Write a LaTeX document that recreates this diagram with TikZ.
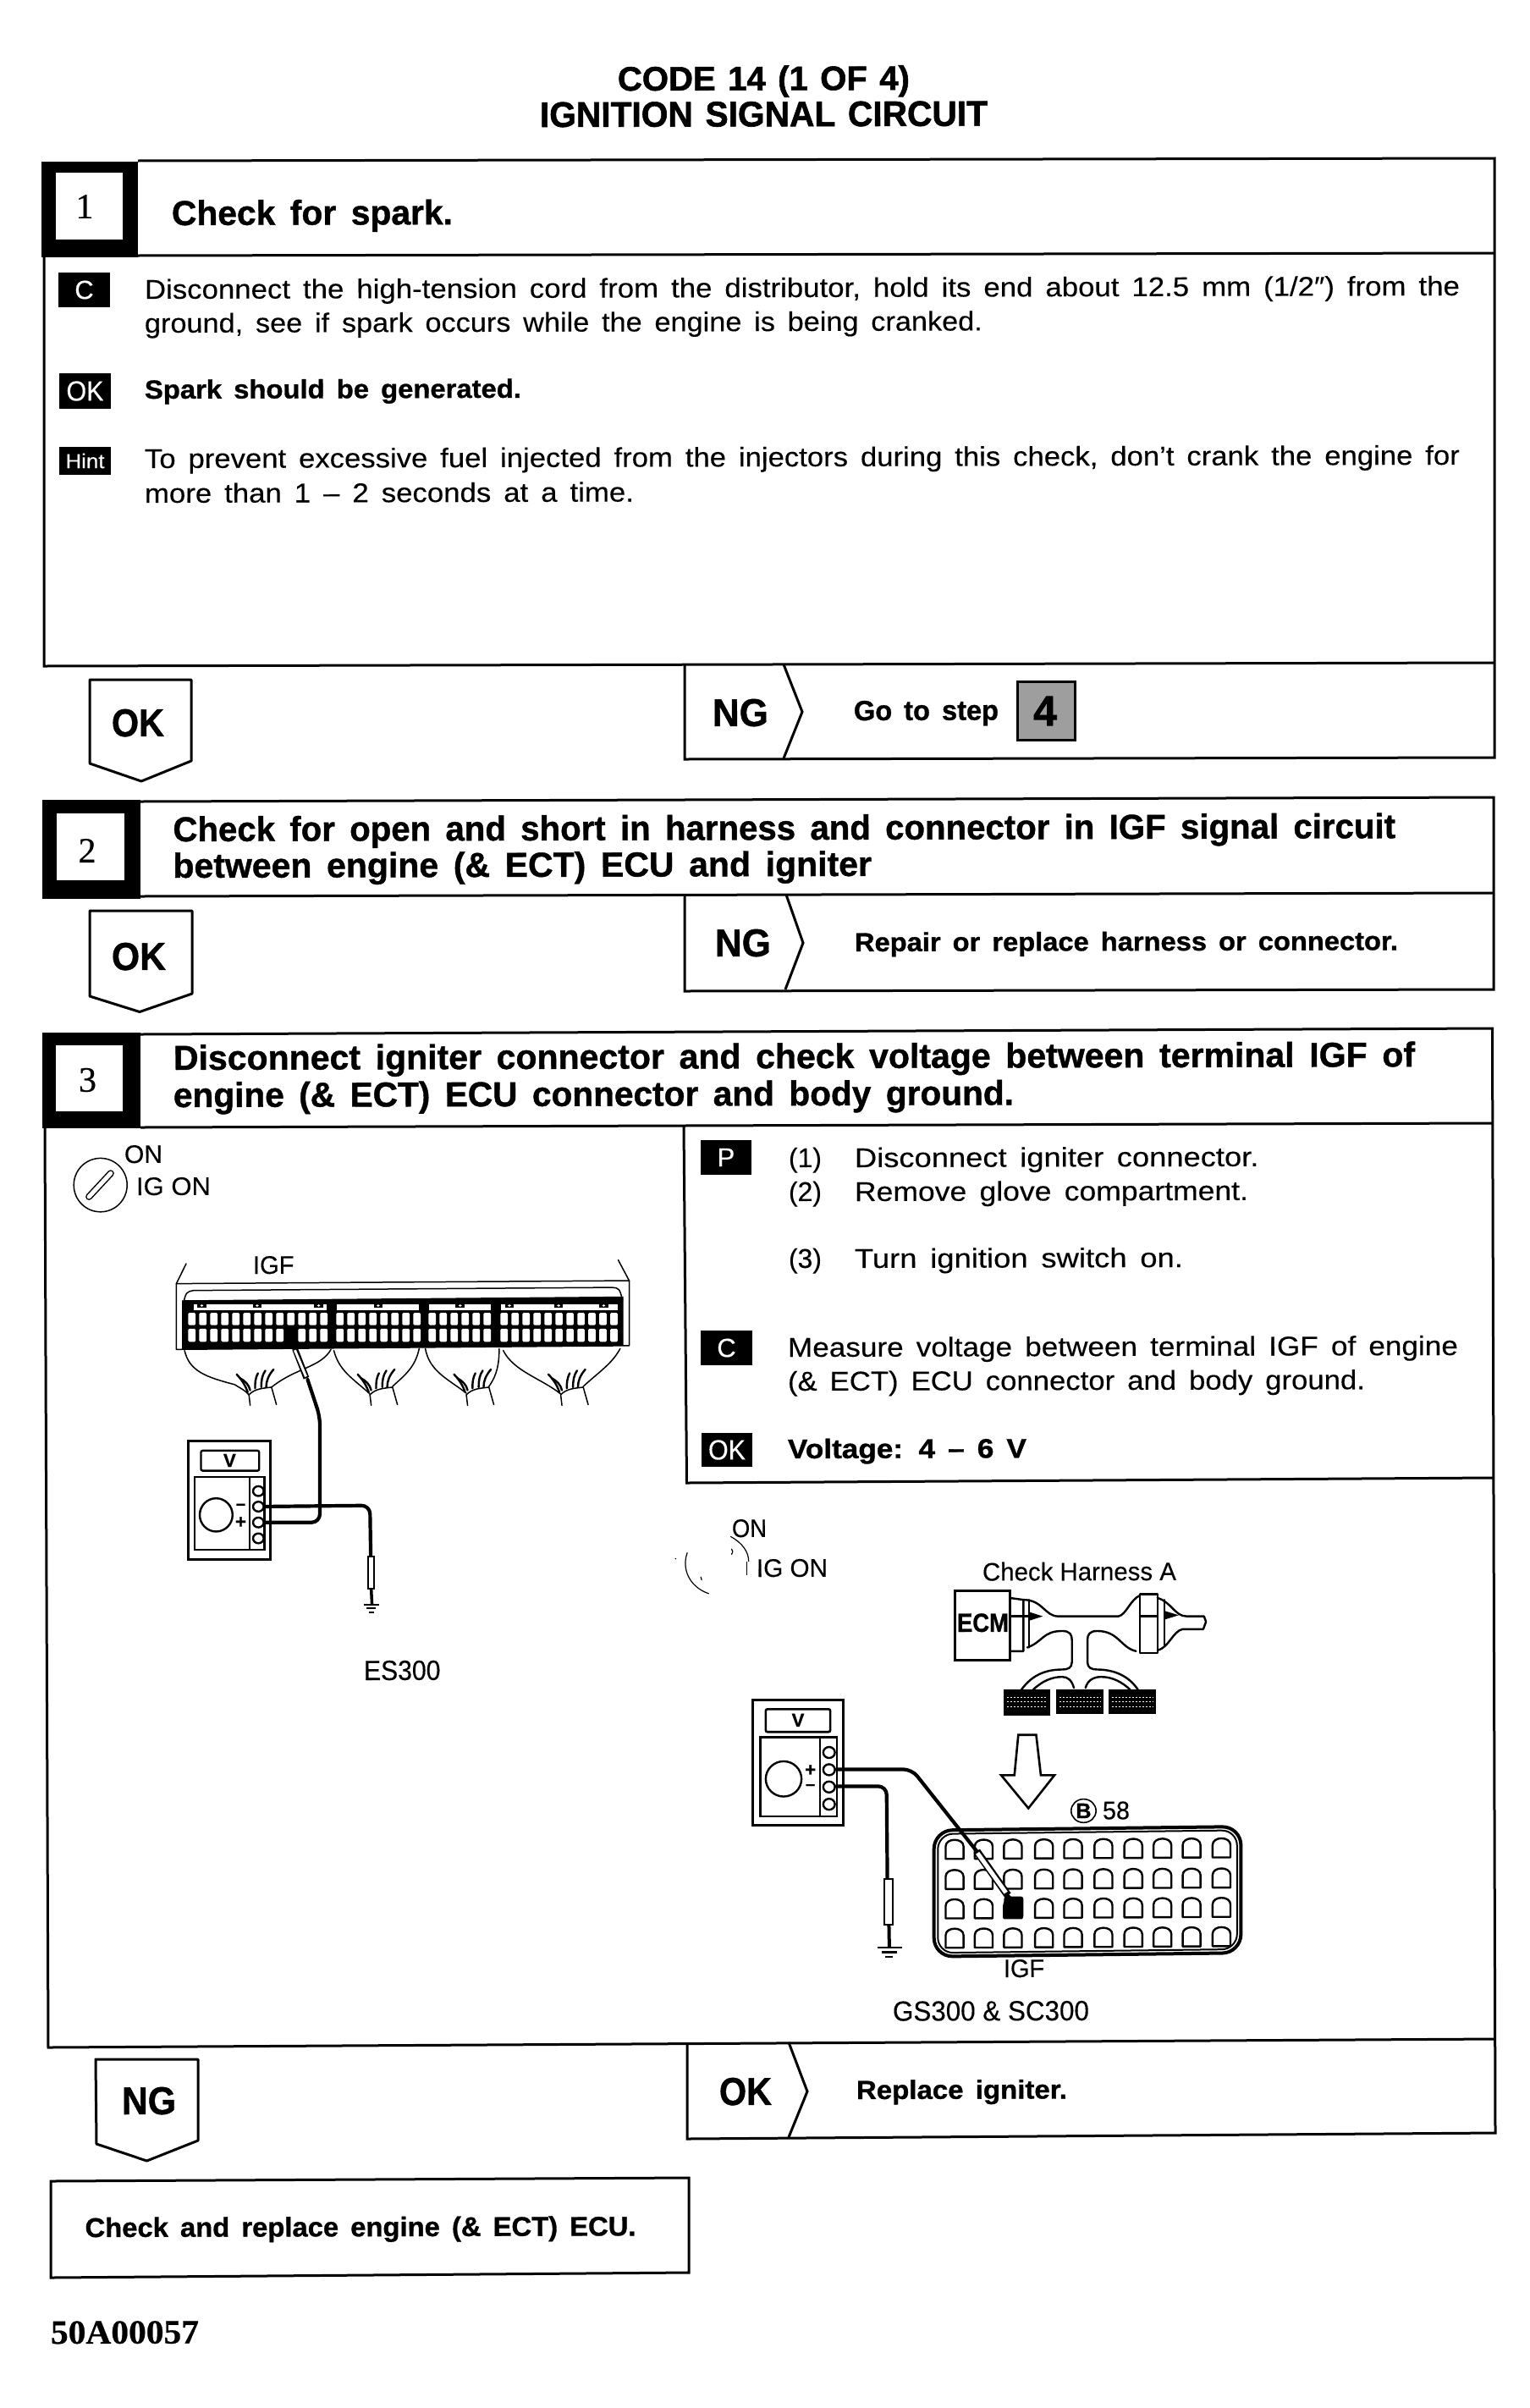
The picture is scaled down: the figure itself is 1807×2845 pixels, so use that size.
\documentclass[tikz,border=0pt]{standalone}
\usepackage{graphicx}
\usepackage{fontspec}
\setmainfont{Liberation Sans}[WordSpace=1.55,FakeBold=0.25,BoldFeatures={FakeBold=1.0}]
\newfontfamily\titlef{Liberation Sans Bold}[FakeBold=1.4,WordSpace=1.3]
\newfontfamily\labelf{Liberation Sans}[FakeBold=0.2]
\newfontfamily\serifnum{Liberation Serif}[FakeBold=0.6]
\newfontfamily\serifbold{Liberation Serif Bold}[FakeBold=0.6]
\newcommand{\txtn}[7]{\node[anchor=base west,inner sep=0pt,outer sep=0pt,rotate=0.15] (#1) at (#2,#3) {\fontsize{#5}{#5}\selectfont #6\resizebox{#4pt}{\height}{#7}};}
\newcommand{\tagn}[7]{\fill[black] (#2,#3) rectangle (#4,#5); \node[inner sep=0pt,text=white] (#1) at ({(#2+#4)/2},{(#3+#5)/2}) {\fontsize{#6}{#6}\selectfont #7};}
\tikzset{
  frame/.style={draw=black,line width=3pt,line join=miter},
  thin wire/.style={draw=black,line width=1.5pt,line join=round,line cap=round},
  med wire/.style={draw=black,line width=2.4pt,line join=round,line cap=round},
  lead/.style={draw=black,line width=4.2pt,line join=round,line cap=round,rounded corners=10pt},
  zA/.style={shift={(30,1330)},x=0.48473pt,y=-0.44643pt},
  zB/.style={shift={(780,1760)},x=0.45914pt,y=-0.43365pt}
}
\begin{document}
\begin{tikzpicture}[x=1pt,y=-1pt]
\useasboundingbox (0,0) rectangle (1807,2845);
\fill[white] (0,0) rectangle (1807,2845);
% title
\txtn{t1}{730}{107}{345}{40}{\titlef}{CODE 14 (1 OF 4)}
\txtn{t2}{638}{150}{529}{42}{\titlef}{IGNITION SIGNAL CIRCUIT}
% ---------- box 1
\fill[black] (49,191) rectangle (163,304);
\fill[white] (66,204) rectangle (145,283);
\node[inner sep=0pt] (n1) at (100,244) {\fontsize{42}{42}\selectfont\serifnum 1};
\draw[frame] (163,190) -- (1766,187) -- (1766,895) -- (809,897) -- (809,785);
\draw[frame] (163,302) -- (1766,299);
\draw[frame] (52,300) -- (52,787) -- (1766,783);
\draw[frame] (926,785) -- (948,841) -- (926,896);
\txtn{h1}{203}{266}{332}{41}{\bfseries}{Check for spark.}
\tagn{tc1}{69}{322}{130}{363}{31}{C}
\tagn{tok1}{70}{441}{131}{483}{33}{\resizebox{44pt}{\height}{OK}}
\tagn{thint}{70}{528}{131}{561}{24}{\resizebox{46pt}{\height}{Hint}}
\txtn{b1}{171}{353}{1554}{32}{}{Disconnect the high-tension cord from the distributor, hold its end about 12.5 mm (1/2″) from the}
\txtn{b2}{171}{393}{990}{32}{}{ground, see if spark occurs while the engine is being cranked.}
\txtn{b3}{171}{471}{445}{31}{\bfseries}{Spark should be generated.}
\txtn{b4}{171}{553}{1554}{32}{}{To prevent excessive fuel injected from the injectors during this check, don't crank the engine for}
\txtn{b5}{171}{594}{578}{32}{}{more than 1 – 2 seconds at a time.}
\draw[frame,line join=round] (106,803) -- (226,803) -- (226,899) -- (167,923) -- (106,902) -- cycle;
\txtn{ok1}{132}{870}{62}{46}{\bfseries}{OK}
\txtn{ng1}{842}{858}{66}{46}{\bfseries}{NG}
\txtn{go}{1009}{851}{171}{33}{\bfseries}{Go to step}
\filldraw[fill=black!38,draw=black,line width=3pt] (1202,805) rectangle (1270,874);
\node[inner sep=0pt] (four) at (1235,840) {\fontsize{50}{50}\selectfont\titlef 4};
% ---------- box 2
\fill[black] (50,945) rectangle (166,1062);
\fill[white] (67,961) rectangle (146.5,1040);
\node[inner sep=0pt] (n2) at (103,1005) {\fontsize{42}{42}\selectfont\serifnum 2};
\draw[frame] (166,947) -- (1765,942) -- (1765,1169) -- (809,1171) -- (809,1058);
\draw[frame] (166,1059) -- (1765,1055);
\draw[frame] (929,1057) -- (949,1114) -- (928,1169);
\txtn{h2a}{204.5}{994}{1444.5}{41}{\bfseries}{Check for open and short in harness and connector in IGF signal circuit}
\txtn{h2b}{204.5}{1037}{825.5}{41}{\bfseries}{between engine (\& ECT) ECU and igniter}
\draw[frame,line join=round] (106,1076) -- (227,1076) -- (227,1174) -- (165,1195.5) -- (106,1177) -- cycle;
\txtn{ok2}{132}{1146}{64}{46}{\bfseries}{OK}
\txtn{ng2}{845}{1130}{66}{46}{\bfseries}{NG}
\txtn{rep}{1010}{1124}{642}{31}{\bfseries}{Repair or replace harness or connector.}
% ---------- box 3
\fill[black] (50,1220) rectangle (166,1333);
\fill[white] (66,1234.5) rectangle (145,1313);
\node[inner sep=0pt] (n3) at (103.5,1276) {\fontsize{42}{42}\selectfont\serifnum 3};
\draw[frame] (166,1222) -- (1763.5,1215) -- (1767,2520) -- (812,2527) -- (812,2414);
\draw[frame] (166,1332) -- (1763.5,1327);
\draw[frame] (53,1330) -- (57,2419) -- (1767,2409);
\draw[frame] (808,1330) -- (811.5,1752) -- (1764,1746);
\draw[frame] (932,2413) -- (954,2471) -- (932,2525);
\txtn{h3a}{205}{1264}{1467}{41}{\bfseries}{Disconnect igniter connector and check voltage between terminal IGF of}
\txtn{h3b}{205}{1308}{993}{41}{\bfseries}{engine (\& ECT) ECU connector and body ground.}
\tagn{tp}{828}{1347}{888}{1388}{31}{P}
\tagn{tc2}{828}{1572}{889}{1613}{31}{C}
\tagn{tok2}{829}{1693}{889}{1733}{33}{\resizebox{44pt}{\height}{OK}}
\txtn{p1}{932}{1379}{39}{32}{}{(1)}
\txtn{p1t}{1010}{1379}{477.5}{32}{}{Disconnect igniter connector.}
\txtn{p2}{932}{1419}{39}{32}{}{(2)}
\txtn{p2t}{1010}{1419}{465}{32}{}{Remove glove compartment.}
\txtn{p3}{932}{1498}{39}{32}{}{(3)}
\txtn{p3t}{1010}{1498}{388}{32}{}{Turn ignition switch on.}
\txtn{m1}{931}{1603}{792}{32}{}{Measure voltage between terminal IGF of engine}
\txtn{m2}{931}{1643}{682}{32}{}{(\& ECT) ECU connector and body ground.}
\txtn{v1}{931}{1723}{282}{32}{\bfseries}{Voltage: 4 – 6 V}
% ---------- figure ES300
\txtn{fa1}{147}{1374}{45}{30}{\labelf}{ON}
\txtn{fa2}{161}{1412}{88}{30}{\labelf}{IG ON}
\txtn{fa3}{299}{1505}{48.5}{30}{\labelf}{IGF}
\txtn{fa4}{430}{1985}{90.5}{33}{\labelf}{ES300}
\begin{scope}[zA]
  % key
  \draw[thin wire] (183,157) circle [x radius=65,y radius=71];
  \draw[line width=8pt,line cap=round] (155,188) -- (208,126);
  \draw[white,line width=5pt,line cap=round] (155,188) -- (208,126);
  % shell
  \draw[thin wire] (392,365) -- (368,418) -- (368,592) -- (1472,582) -- (1472,410) -- (1445,355);
  \draw[thin wire] (368,418) -- (1472,410);
  \draw[thin wire] (385,470) .. controls (392,440) .. (410,436) -- (1430,428) .. controls (1448,430) .. (1456,462);
  % block
  \fill[black] (382,462) -- (1458,452) -- (1458,582) -- (382,592) -- cycle;
  \foreach \xa/\xb in {410/735,760/960,985/1135,1160/1445} {
    \fill[white] (\xa,473) rectangle (\xb,488);
  }
  \foreach \xa in {430,565,715,860,1060,1180,1300,1410} {
    \fill[black] (\xa-11,473) rectangle (\xa+11,481);
    \fill[white] (\xa,476) circle [x radius=4,y radius=3];
  }
  \foreach \sx/\n in {397/13,758/8,983/6,1158/11} {
    \foreach \i in {1,...,\n} {
      \fill[white,rounded corners=1.5pt] ({\sx+26.8*(\i-1)},495) rectangle +(18,33);
      \fill[white,rounded corners=1.5pt] ({\sx+26.8*(\i-1)},537) rectangle +(18,35);
    }
  }
  \fill[black] (634,535) rectangle (664,575);
  % wire fans
  \draw[thin wire] (388,595) .. controls (400,650) and (440,665) .. (510,685) .. controls (525,695) and (535,700) .. (545,712);
  \draw[thin wire] (745,592) .. controls (720,640) and (660,640) .. (600,692);
  \draw[thin wire] (752,595) .. controls (765,650) and (800,670) .. (840,710);
  \draw[thin wire] (960,590) .. controls (950,640) and (925,660) .. (895,690);
  \draw[thin wire] (975,590) .. controls (985,650) and (1030,670) .. (1075,708);
  \draw[thin wire] (1155,590) .. controls (1155,630) and (1150,660) .. (1130,690);
  \draw[thin wire] (1165,595) .. controls (1190,650) and (1260,670) .. (1305,710);
  \draw[thin wire] (1450,590) .. controls (1430,630) and (1400,650) .. (1360,690);
  \foreach \fx in {545,840,1075,1305} {
    \draw[thin wire] (\fx,712) .. controls (\fx+15,695) and (\fx+35,695) .. (\fx+55,692);
    \draw[thin wire] (\fx,712) -- (\fx+3,740);
    \draw[thin wire] (\fx+55,692) -- (\fx+67,738);
    \draw[med wire] (\fx-3,705) .. controls (\fx-8,690) and (\fx-15,675) .. (\fx-30,658);
    \draw[med wire] (\fx+3,700) .. controls (\fx,685) and (\fx-10,675) .. (\fx-22,668);
    \draw[med wire] (\fx+15,695) .. controls (\fx+15,680) and (\fx+15,670) .. (\fx+22,655);
    \draw[med wire] (\fx+30,692) .. controls (\fx+30,675) and (\fx+32,660) .. (\fx+40,648);
    \draw[med wire] (\fx+42,692) .. controls (\fx+42,675) and (\fx+48,660) .. (\fx+60,645);
  }
  % probe and lead
  \draw[line width=7pt] (657,590) -- (685,668);
  \draw[white,line width=3pt] (657,594) -- (684,664);
  \draw[lead] (570,1050) -- (718,1050) -- (718,770) -- (688,672);
  \draw[lead] (570,1008) -- (840,1005) -- (842,1140);
  \filldraw[fill=white,draw=black,line width=2pt] (836,1140) rectangle (850,1225);
  \draw[line width=3.5pt] (843,1225) -- (845,1268);
  \draw[line width=2pt] (825,1268) -- (862,1268);
  \draw[line width=2pt] (832,1277) -- (855,1277);
  \draw[line width=2pt] (838,1287) -- (850,1287);
  % meter
  \draw[line width=3pt] (398,835) rectangle (598,1147);
  \draw[line width=2.4pt,rounded corners=2pt] (428,860) rectangle (570,913);
  \draw[line width=2.4pt] (413,930) rectangle (583,1122);
  \draw[line width=2.4pt] (547,930) -- (547,1122);
  \foreach \cy in {967,1008,1050,1092} {
    \filldraw[fill=white,draw=black,line width=2.4pt] (568,\cy) circle [x radius=13,y radius=13];
  }
  \draw[line width=2.4pt] (465,1030) circle [x radius=40,y radius=44];
  \node[inner sep=0pt] (va) at (498,886) {\fontsize{22}{22}\selectfont\bfseries V};
  \node[inner sep=0pt] (ma) at (525,1008) {\fontsize{20}{20}\selectfont\bfseries –};
  \node[inner sep=0pt] (pa) at (525,1050) {\fontsize{22}{22}\selectfont\bfseries +};
\end{scope}
% ---------- figure GS300
\txtn{fb1}{865}{1816}{41}{30}{\labelf}{ON}
\txtn{fb2}{894}{1863}{84}{30}{\labelf}{IG ON}
\txtn{fb3}{1161}{1867.5}{229}{30}{\labelf}{Check Harness A}
\txtn{fb4}{1131}{1928}{61}{31}{\bfseries}{ECM}
\txtn{fb5}{1303}{2149.4}{32}{30}{\labelf}{58}
\txtn{fb6}{1186}{2336}{48}{30}{\labelf}{IGF}
\txtn{fb7}{1055}{2387.5}{232}{33}{\labelf}{GS300 \& SC300}
\begin{scope}[zB]
  % partial key
  \draw[thin wire,line width=1.2pt] (182,128) .. controls (212,145) and (228,170) .. (228,195);
  \draw[thin wire,line width=1.2pt] (224,197) -- (224,232);
  \draw[thin wire,line width=1.2pt] (70,172) .. controls (55,215) and (75,265) .. (125,283);
  \fill[black] (40,188) circle [x radius=2,y radius=2];
  \draw[thin wire,line width=1.2pt] (184,162) .. controls (188,168) .. (184,176);
  \draw[thin wire,line width=1.2pt] (105,238) -- (107,246);
  % ECM + harness
  \draw[line width=3pt] (760,275) rectangle (900,465);
  \draw[med wire] (900,295) -- (935,300) -- (935,440) -- (900,440);
  \draw[med wire] (950,300) -- (950,430);
  \draw[med wire] (935,300) .. controls (985,300) and (990,345) .. (1025,345) -- (1180,345) .. controls (1200,340) and (1210,300) .. (1235,288);
  \draw[med wire] (945,430) .. controls (985,415) and (985,385) .. (1035,385) .. controls (1055,385) and (1060,395) .. (1060,410) -- (1060,470) .. controls (1060,485) and (1050,490) .. (1035,490) .. controls (1000,490) and (960,500) .. (930,545);
  \draw[med wire] (960,545) .. controls (985,520) and (1010,510) .. (1035,510) .. controls (1050,510) and (1060,520) .. (1065,540);
  \draw[med wire] (1225,440) .. controls (1185,430) and (1180,385) .. (1125,385) .. controls (1105,385) and (1100,395) .. (1100,410) -- (1100,470) .. controls (1100,485) and (1110,490) .. (1125,490) .. controls (1165,490) and (1205,505) .. (1230,545);
  \draw[med wire] (1095,540) .. controls (1100,520) and (1115,510) .. (1135,510) .. controls (1165,510) and (1190,525) .. (1210,545);
  \draw[med wire] (1235,285) -- (1280,285) -- (1280,445) -- (1235,445) -- cycle;
  \draw[med wire] (1235,345) -- (1280,345);
  \draw[med wire] (1298,300) -- (1298,425);
  \draw[med wire] (1280,295) .. controls (1315,305) and (1325,345) .. (1355,345) -- (1400,345) -- (1405,360) -- (1398,380) -- (1345,380) .. controls (1320,385) and (1310,430) .. (1280,438);
  \draw[med wire] (905,345) -- (955,345);
  \fill[black] (950,333) -- (985,345) -- (950,357) -- cycle;
  \fill[black] (1298,330) -- (1335,342) -- (1298,354) -- cycle;
  \foreach \xa/\ya/\xb/\yb in {885/545/1005/615,1020/545/1142/612,1155/545/1277/612} {
    \fill[black] (\xa,\ya) rectangle (\xb,\yb);
    \foreach \wy in {565,578,591} {
      \draw[white,line width=0.8pt,dash pattern=on 2pt off 2pt] (\xa+8,\wy) -- (\xb-8,\wy);
    }
  }
  % big arrow
  \draw[line width=2.6pt,line join=miter] (922,668) -- (968,668) -- (980,778) -- (1015,778) -- (948,868) -- (878,778) -- (912,778) -- cycle;
  % B circle
  \draw[line width=1.6pt] (1090,875) circle [x radius=32,y radius=32];
  \node[inner sep=0pt] (bb) at (1090,875) {\fontsize{25}{25}\selectfont\bfseries B};
  % connector
  \draw[line width=4pt,rounded corners=22pt] (705,928) -- (1495,918) -- (1495,1262) -- (705,1272) -- cycle;
  \draw[line width=2pt,rounded corners=18pt] (715,938) -- (1485,928) -- (1485,1252) -- (715,1262) -- cycle;
  \foreach \yt in {948,1030,1110,1190} {
    \foreach \cx in {735,810,885,965,1040,1118,1195,1270,1345,1422} {
      \pgfmathsetmacro{\ya}{\yt-0.006*(\cx-735)}
      \pgfmathsetmacro{\yb}{\ya+58}
      \draw[line width=2.4pt,line join=round] (\cx,\yb) -- (\cx,\ya+24) .. controls (\cx,\ya) and (\cx+46,\ya) .. (\cx+46,\ya+24) -- (\cx+46,\yb) -- cycle;
    }
  }
  \fill[black,rounded corners=3pt] (885,1108) rectangle (935,1169);
  % probe and leads
  \draw[lead] (455,762) -- (648,762) -- (815,985);
  \draw[line width=9pt] (815,985) -- (895,1105);
  \draw[white,line width=5pt] (817,990) -- (890,1098);
  \draw[line width=4pt] (892,1102) -- (908,1122);
  \draw[lead] (455,808) -- (583,808) -- (585,1060);
  \filldraw[fill=white,draw=black,line width=2pt] (577,1060) rectangle (600,1185);
  \draw[line width=4pt] (589,1185) -- (590,1245);
  \draw[line width=2.2pt] (560,1247) -- (622,1247);
  \draw[line width=2.2pt] (570,1260) -- (610,1260);
  \draw[line width=2.2pt] (580,1273) -- (600,1273);
  % meter
  \draw[line width=3pt] (238,572) rectangle (472,915);
  \draw[line width=2.6pt,rounded corners=2pt] (272,598) rectangle (438,660);
  \draw[line width=2.6pt] (258,675) rectangle (455,890);
  \draw[line width=2.4pt] (412,675) -- (412,890);
  \foreach \cy in {716,763,810,857} {
    \filldraw[fill=white,draw=black,line width=2.4pt] (435,\cy) circle [x radius=15,y radius=15];
  }
  \draw[line width=2.4pt] (318,788) circle [x radius=46,y radius=48];
  \node[inner sep=0pt] (vb) at (355,628) {\fontsize{22}{22}\selectfont\bfseries V};
  \node[inner sep=0pt] (pb) at (387,765) {\fontsize{22}{22}\selectfont\bfseries +};
  \node[inner sep=0pt] (mb) at (387,810) {\fontsize{20}{20}\selectfont\bfseries –};
\end{scope}
% ---------- bottom
\draw[frame,line join=round] (113,2433) -- (234,2433) -- (234,2529) -- (173.5,2553) -- (114,2533) -- cycle;
\txtn{ng3}{144}{2498}{64}{46}{\bfseries}{NG}
\txtn{ok3}{850}{2487}{62}{46}{\bfseries}{OK}
\txtn{rig}{1012}{2480}{249}{31}{\bfseries}{Replace igniter.}
\draw[frame] (60,2577) -- (814,2573) -- (814,2685) -- (60,2691) -- cycle;
\txtn{ecu}{100.6}{2643}{651}{32}{\bfseries}{Check and replace engine (\& ECT) ECU.}
\txtn{code}{60}{2769}{175}{40}{\serifbold}{50A00057}
\end{tikzpicture}
\end{document}
